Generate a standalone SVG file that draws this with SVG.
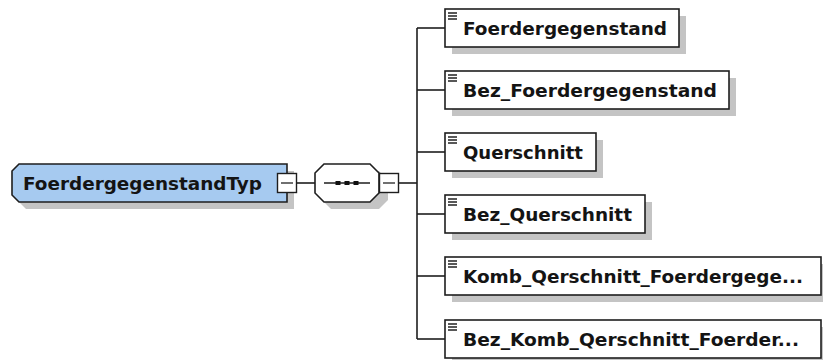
<svg xmlns="http://www.w3.org/2000/svg" width="823" height="360" viewBox="0 0 823 360">
<style>
.shadow{fill:#c4c4c4;stroke:none}
.box{fill:#ffffff;stroke:#1e1e1e;stroke-width:1.6}
.main{fill:#a6caf0;stroke:#1e1e1e;stroke-width:1.6}
.lbl{font-family:"DejaVu Sans",Verdana,sans-serif;font-weight:bold;font-size:18.4px;fill:#141414}
.conn{fill:none;stroke:#1e1e1e;stroke-width:1.6}
.tog{fill:#ffffff;stroke:#1e1e1e;stroke-width:1.4}
.minus{stroke:#333333;stroke-width:1.4}
.ico{stroke:#222222;stroke-width:1.3}
</style>
<g id="connectors">
<line class="conn" x1="296" y1="183" x2="315" y2="183"/>
<line class="conn" x1="398" y1="183" x2="417" y2="183"/>
<line class="conn" x1="417" y1="28" x2="417" y2="339"/>
<line class="conn" x1="417" y1="28" x2="445" y2="28"/>
<line class="conn" x1="417" y1="90" x2="445" y2="90"/>
<line class="conn" x1="417" y1="152" x2="445" y2="152"/>
<line class="conn" x1="417" y1="214" x2="445" y2="214"/>
<line class="conn" x1="417" y1="276" x2="445" y2="276"/>
<line class="conn" x1="417" y1="339" x2="445" y2="339"/>
</g>
<g id="FoerdergegenstandTyp">
<polygon class="shadow" points="26,171 294,171 294,209 26,209 19,202 19,178"/>
<polygon class="main" points="19,164 287,164 287,202 19,202 12,195 12,171"/>
<text class="lbl" x="23" y="190" textLength="239" lengthAdjust="spacingAndGlyphs">FoerdergegenstandTyp</text>
<rect class="tog" x="277.5" y="173.5" width="19" height="19"/>
<line class="minus" x1="281" y1="183" x2="293" y2="183"/>
</g>
<g id="sequence">
<polygon class="shadow" points="331,171 379,171 388,180 388,200 379,209 331,209 322,200 322,180"/>
<polygon class="box" points="324,164 370,164 379,173 379,193 370,202 324,202 315,193 315,173"/>
<line x1="324" y1="183" x2="370" y2="183" stroke="#1e1e1e" stroke-width="1.4"/>
<rect x="335.5" y="181" width="5" height="4" fill="#111"/>
<rect x="344.5" y="181" width="5" height="4" fill="#111"/>
<rect x="353.5" y="181" width="5" height="4" fill="#111"/>
<rect class="tog" x="379.5" y="173.5" width="19" height="19"/>
<line class="minus" x1="383" y1="183" x2="395" y2="183"/>
</g>
<g id="Foerdergegenstand">
<rect class="shadow" x="452" y="16" width="234" height="38"/>
<rect class="box" x="445" y="9" width="234" height="38"/>
<path class="ico" d="M448 13H457M448 16H457M448 19H457"/>
<text class="lbl" x="463" y="35" textLength="204" lengthAdjust="spacingAndGlyphs">Foerdergegenstand</text>
</g>
<g id="Bez_Foerdergegenstand">
<rect class="shadow" x="452" y="78" width="284" height="38"/>
<rect class="box" x="445" y="71" width="284" height="38"/>
<path class="ico" d="M448 75H457M448 78H457M448 81H457"/>
<text class="lbl" x="463" y="97" textLength="254" lengthAdjust="spacingAndGlyphs">Bez_Foerdergegenstand</text>
</g>
<g id="Querschnitt">
<rect class="shadow" x="452" y="140" width="151" height="38"/>
<rect class="box" x="445" y="133" width="151" height="38"/>
<path class="ico" d="M448 137H457M448 140H457M448 143H457"/>
<text class="lbl" x="463" y="159" textLength="120" lengthAdjust="spacingAndGlyphs">Querschnitt</text>
</g>
<g id="Bez_Querschnitt">
<rect class="shadow" x="452" y="202" width="200" height="38"/>
<rect class="box" x="445" y="195" width="200" height="38"/>
<path class="ico" d="M448 199H457M448 202H457M448 205H457"/>
<text class="lbl" x="463" y="221" textLength="169" lengthAdjust="spacingAndGlyphs">Bez_Querschnitt</text>
</g>
<g id="Komb_Qerschnitt_Foerdergegenstand">
<rect class="shadow" x="452" y="264" width="376" height="38"/>
<rect class="box" x="445" y="257" width="376" height="38"/>
<path class="ico" d="M448 261H457M448 264H457M448 267H457"/>
<text class="lbl" x="463" y="283" textLength="340" lengthAdjust="spacingAndGlyphs">Komb_Qerschnitt_Foerdergege...</text>
</g>
<g id="Bez_Komb_Qerschnitt_Foerdergegenstand">
<rect class="shadow" x="452" y="327" width="376" height="38"/>
<rect class="box" x="445" y="320" width="376" height="38"/>
<path class="ico" d="M448 324H457M448 327H457M448 330H457"/>
<text class="lbl" x="463" y="346" textLength="336" lengthAdjust="spacingAndGlyphs">Bez_Komb_Qerschnitt_Foerder...</text>
</g>
</svg>
